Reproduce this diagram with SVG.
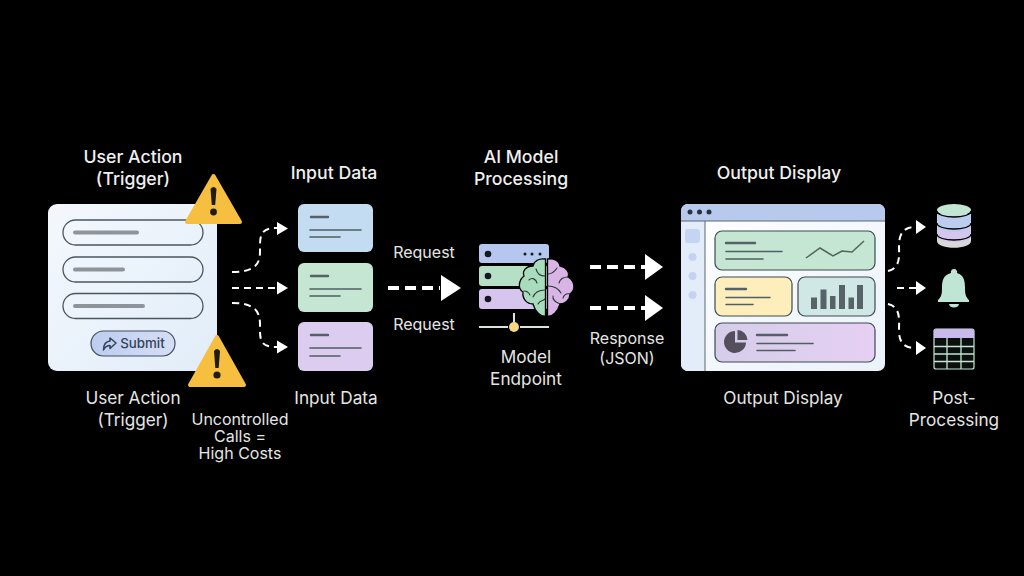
<svg xmlns="http://www.w3.org/2000/svg" width="1024" height="576" viewBox="0 0 1024 576">
<style>
text{font-family:"Inter","Liberation Sans",sans-serif;fill:#e4e6e6;text-anchor:middle;font-size:17.2px}
.t{font-weight:500;font-size:17.700px;fill:#eef0f0}
.s{font-size:16px}
.dash{fill:none;stroke:#fff;stroke-dasharray:7 5;stroke-width:2}
.thick{fill:none;stroke:#fff;stroke-width:4;stroke-dasharray:11 6}
.head{fill:#fff}
.row{fill:none;stroke:#4a5560;stroke-width:1.3}
.bar{stroke-linecap:round;fill:none}
.ln{stroke:#4f5f63;stroke-width:1.6;stroke-linecap:round;fill:none}
.lnb{stroke:#566068;stroke-width:2.4;stroke-linecap:round;fill:none}
.pan{stroke:#3f4a4f;stroke-width:1.2}
.warn{fill:#f6bf3f;stroke:#f6bf3f;stroke-width:4;stroke-linejoin:round}
.ex{fill:#1f1c14}
.bd{stroke:#2b3a36;stroke-width:1.1;fill:none;stroke-linecap:round}
</style>
<defs>
<linearGradient id="gForm" x1="0" y1="0" x2="1" y2="1"><stop offset="0" stop-color="#f4f8fd"/><stop offset="1" stop-color="#e1edf9"/></linearGradient>
<linearGradient id="gWin" x1="0" y1="0" x2="1" y2="1"><stop offset="0" stop-color="#ffffff"/><stop offset="1" stop-color="#eaf2fb"/></linearGradient>
<linearGradient id="gPur" x1="0" y1="0" x2="1" y2="0"><stop offset="0" stop-color="#d5cdea"/><stop offset="1" stop-color="#e6d0f3"/></linearGradient>
<linearGradient id="gSub" x1="0" y1="0" x2="1" y2="0"><stop offset="0" stop-color="#bccdf0"/><stop offset="1" stop-color="#d6def5"/></linearGradient>
</defs>
<rect width="1024" height="576" fill="#000"/>

<g id="connectors">
<path class="dash" d="M232 272C262 272 260 258 260 246C260 234 262 228 277 228"/>
<path class="dash" d="M232 288H277"/>
<path class="dash" d="M232 303C262 303 260 318 260 330C260 342 262 347 277 347"/>
<path class="head" d="M277 222L288 228.500L277 235Z"/>
<path class="head" d="M277 281.500L288 288L277 294.500Z"/>
<path class="head" d="M277 340.500L288 347L277 353.500Z"/>
<path class="thick" d="M388 288H440"/>
<path class="head" d="M441 275L461 288L441 301Z"/>
<path class="thick" d="M590 267H646"/>
<path class="head" d="M645 254L663 267L645 280Z"/>
<path class="thick" d="M590 308H646"/>
<path class="head" d="M645 295L663 308L645 321Z"/>
<path class="dash" d="M888 271C901 268 899 255 899 246C899 234 903 227 916 227"/>
<path class="dash" d="M897 288H916"/>
<path class="dash" d="M888 304C901 307 899 320 899 330C899 342 903 348 916 348"/>
<path class="head" d="M916 220L926 227L916 234Z"/>
<path class="head" d="M916 281L926 288L916 295Z"/>
<path class="head" d="M916 341L926 348L916 355Z"/>
</g>

<g id="user-action">
<text class="t" x="133" y="163">User Action</text>
<text class="t" x="133" y="185">(Trigger)</text>
<rect x="48" y="204" width="169" height="167" rx="9" fill="url(#gForm)"/>
<rect class="row" x="63" y="220" width="140" height="25" rx="12.500"/>
<rect class="row" x="63" y="257" width="140" height="25" rx="12.500"/>
<rect class="row" x="63" y="293.500" width="140" height="25" rx="12.500"/>
<path class="bar" stroke="#8d949b" stroke-width="4" d="M75 232.500H137M75 269.500H123M75 306H143"/>
<rect x="91" y="331" width="84" height="25" rx="12.500" fill="url(#gSub)" stroke="#3f4c60" stroke-width="1.200"/>
<path d="M110 338L116 343L110 348.500V345.500C106.500 345.500 105 347 103.500 350C103.500 345 105.500 341.500 110 341Z" fill="none" stroke="#33415a" stroke-width="1.500" stroke-linejoin="round"/>
<text x="142.500" y="348" style="font-size:13.300px;font-weight:500;fill:#33415a">Submit</text>
<text x="133" y="404">User Action</text>
<text x="133" y="426">(Trigger)</text>
</g>

<g id="warning-top">
<path class="warn" d="M213.500 176L187 222H240Z"/>
<path class="ex" d="M210.500 189Q213.500 185 216.500 189L215.200 205H211.800Z"/>
<circle class="ex" cx="213.500" cy="212" r="3.400"/>
</g>

<g id="warning-bottom">
<path class="warn" d="M217 337L190 385H244Z"/>
<path class="ex" d="M214 351Q217 347 220 351L218.700 368H215.300Z"/>
<circle class="ex" cx="217" cy="375" r="3.600"/>
<text class="s" y="425"><tspan x="240">Uncontrolled</tspan><tspan x="240" dy="17">Calls =</tspan><tspan x="240" dy="17">High Costs</tspan></text>
</g>

<g id="input-data">
<text class="t" x="334" y="179">Input Data</text>
<rect x="298" y="204" width="75" height="48" rx="6" fill="#c3dcf2"/>
<path class="lnb" d="M311 217H328"/><path class="ln" d="M310 230H361M310 237H340"/>
<rect x="298" y="263" width="75" height="49" rx="6" fill="#c4e6d2"/>
<path class="lnb" d="M311 276H328"/><path class="ln" d="M310 289H361M310 296H340"/>
<rect x="298" y="322" width="75" height="49" rx="6" fill="#dccdf0"/>
<path class="lnb" d="M311 335H328"/><path class="ln" d="M310 348H361M310 356H340"/>
<text x="336" y="404">Input Data</text>
</g>

<g id="request-labels">
<text class="s" x="424" y="258">Request</text>
<text class="s" x="424" y="330">Request</text>
</g>

<g id="model-endpoint">
<text class="t" x="521" y="163">AI Model</text>
<text class="t" x="521" y="185">Processing</text>
<rect x="479" y="244" width="70" height="19" rx="3" fill="#b6c7ef"/>
<rect x="479" y="266" width="70" height="20" rx="3" fill="#b5e0c6"/>
<rect x="479" y="289" width="70" height="20" rx="3" fill="#d6c6ee"/>
<circle cx="488" cy="254" r="3.300" fill="#15181f"/><circle cx="488" cy="276" r="3.300" fill="#15181f"/><circle cx="488" cy="299" r="3.300" fill="#15181f"/>
<circle cx="525" cy="254" r="1.500" fill="#15181f"/><circle cx="532" cy="254" r="1.500" fill="#15181f"/><circle cx="540" cy="254" r="1.500" fill="#15181f"/>
<path d="M514 313V322" stroke="#d5e6dc" stroke-width="2"/>
<path d="M479 327H508M520 327H549" stroke="#d5e6dc" stroke-width="2"/>
<circle cx="514" cy="327" r="5" fill="#f6d682"/>
<path d="M545.500 259C539 258 534 261 533 266C526 266 522 271 524 276C518 281 518 289 523 292C522 299 527 304 533 304C535 311 540 317 545.500 316Z" fill="#a8dcbd" stroke="#000" stroke-width="1.300"/>
<path d="M547.500 259C553 258 559 260 560 266C566 267 570 272 568 277C575 281 576 290 570 294C570 300 565 304 560 304C558 311 553 317 547.500 316Z" fill="#d9b5e6" stroke="#000" stroke-width="1.300"/>
<path class="bd" d="M545 276C540 276 537 273 536 269M529 280C532 277 536 279 537 283M545 290C540 290 535 292 533 297M524 291C527 291 529 293 530 295M538 304C540 300 543 301 545 299"/>
<path class="bd" d="M548 274C552 274 555 271 557 268M568 277C564 277 560 279 559 283M548 286C553 286 558 288 561 293M553 296C552 300 556 302 560 304M570 294C566 293 564 295 563 298"/>
<text x="526" y="363">Model</text>
<text x="526" y="385">Endpoint</text>
</g>

<g id="response-label">
<text class="s" x="627" y="344">Response</text>
<text class="s" x="627" y="364">(JSON)</text>
</g>

<g id="output-display">
<text class="t" x="779" y="179">Output Display</text>
<rect x="681" y="204" width="204" height="167" rx="7" fill="url(#gWin)"/>
<path d="M681 221V211a7 7 0 0 1 7-7H878a7 7 0 0 1 7 7V221Z" fill="#b7caee"/>
<path d="M681 221H705V371H688a7 7 0 0 1-7-7Z" fill="#e3edf9"/>
<path d="M681 221H885M705 221V371" stroke="#5c6670" stroke-width="1" fill="none"/>
<circle cx="690" cy="212" r="2.500" fill="#2a3140"/><circle cx="699.500" cy="212" r="2.500" fill="#2a3140"/><circle cx="709" cy="212" r="2.500" fill="#2a3140"/>
<rect x="685" y="229" width="15" height="14" rx="3" fill="#c6d4f3"/>
<circle cx="692.500" cy="257" r="4" fill="#c6d2ef"/><circle cx="692.500" cy="276" r="4" fill="#c6d2ef"/><circle cx="692.500" cy="295" r="4" fill="#c6d2ef"/>
<rect class="pan" x="715" y="231" width="160" height="39" rx="7" fill="#c4e6d2"/>
<path class="lnb" d="M726 243H755"/><path class="ln" d="M726 251.500H782M726 259H763"/>
<path d="M806 258L820 248L833 256L842 251L852 252L864 241" fill="none" stroke="#52665c" stroke-width="1.500"/>
<rect class="pan" x="715" y="277" width="77" height="39" rx="7" fill="#fdeebc"/>
<path class="lnb" d="M726 289H746"/><path class="ln" d="M726 297.500H770M726 304.500H753"/>
<rect class="pan" x="798" y="277" width="77" height="39" rx="7" fill="#cfe8e6"/>
<path fill="#56646a" d="M811 297.500h6V309h-6ZM820.500 289.500h6V309h-6ZM830 296h5.500V309H830ZM839 285h6V309h-6ZM848.500 297.500h5.500V309h-5.500ZM857 285h6V309h-6Z"/>
<rect class="pan" x="715" y="323" width="160" height="39" rx="7" fill="url(#gPur)"/>
<path d="M735 331V342.500H746A11 11 0 1 1 735 331Z" fill="#554f5d"/>
<path d="M737.500 330A10.500 10.500 0 0 1 747.500 340H737.500Z" fill="#554f5d"/>
<path class="lnb" d="M757 335H787"/><path class="ln" d="M757 343.500H813M757 350.500H795"/>
<text x="783" y="404">Output Display</text>
</g>

<g id="database">
<path d="M937 235V241C937 250 971 250 971 241V235Z" fill="#d8d8d8"/>
<path d="M937 225V236C937 244 971 244 971 236V225Z" fill="#d5c6ee"/>
<path d="M937 214V226C937 234 971 234 971 226V214Z" fill="#bccdf0"/>
<ellipse cx="954" cy="210" rx="17" ry="6" fill="#c3e6d2"/>
<path d="M937 211C937 219 971 219 971 211M937 223C937 231 971 231 971 223M937 234C937 242 971 242 971 234" fill="none" stroke="#000" stroke-width="1.300"/>
</g>

<g id="bell">
<path d="M954 269a3 3 0 0 1 3 4C964 275 965 281 965 288C965 295 966 297 969 300V302H938V300C941 297 942 295 942 288C942 281 943 275 951 273a3 3 0 0 1 3-4Z" fill="#bfe5d4"/>
<path d="M949 304H959A5 3.500 0 0 1 949 304Z" fill="#bfe5d4"/>
</g>

<g id="table">
<rect x="934" y="329" width="40" height="40" rx="2" fill="#0b0f0e" stroke="#c4e6d4" stroke-width="1.200"/>
<path d="M934 331a2 2 0 0 1 2-2H972a2 2 0 0 1 2 2V338H934Z" fill="#c9b9ec"/>
<path d="M934 346.500H974M934 354H974M934 361.500H974M947 338V369M961 338V369" stroke="#c4e6d4" stroke-width="1.300" fill="none"/>
</g>

<g id="post-processing">
<text x="954" y="404">Post-</text>
<text x="954" y="426">Processing</text>
</g>
</svg>
